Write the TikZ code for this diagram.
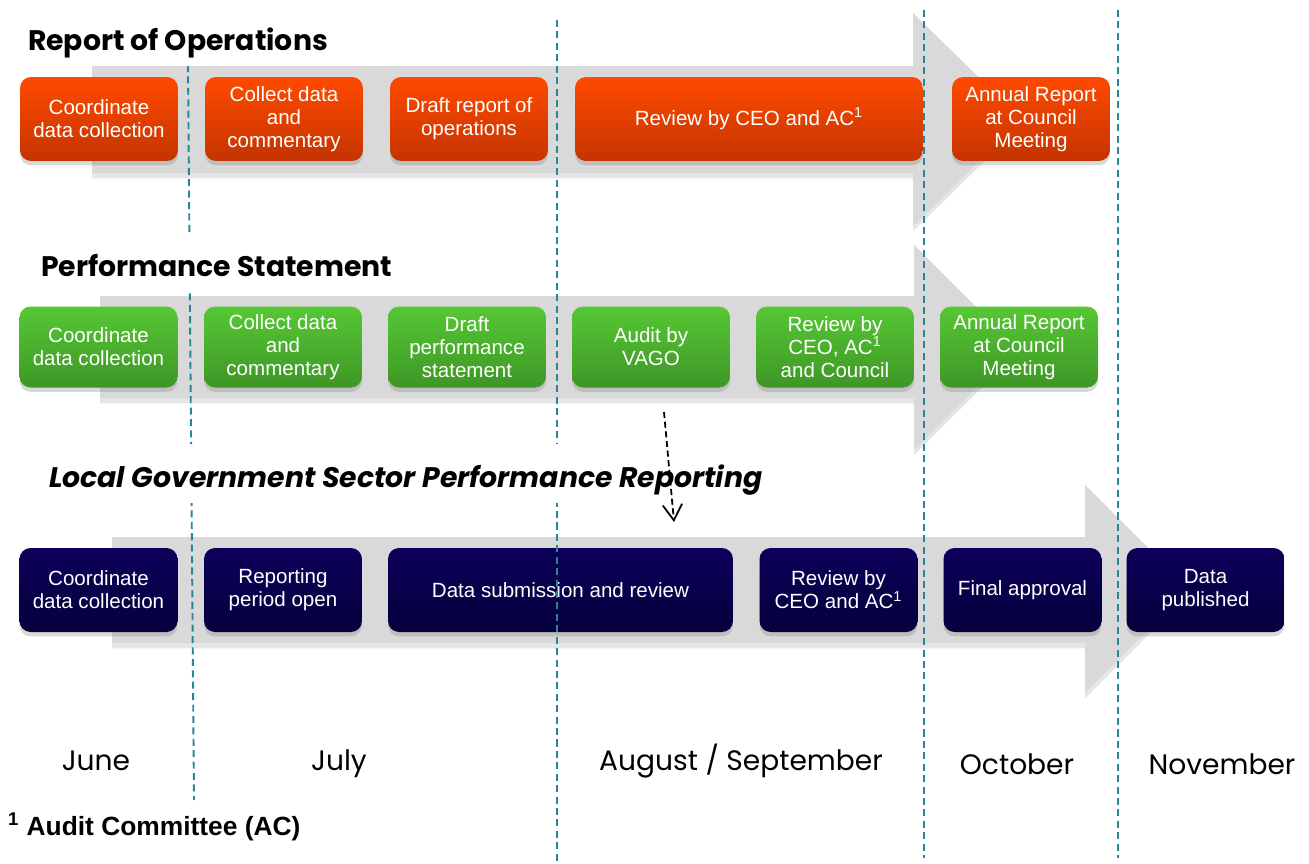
\documentclass[tikz,border=0pt]{standalone}
\usepackage{fontspec}
\setmainfont{Liberation Sans}
\newfontfamily\headfont{Poppins}
\usetikzlibrary{shadows,arrows.meta}

\definecolor{opsTop}{RGB}{255,74,0}
\definecolor{opsBot}{RGB}{196,52,0}
\definecolor{perfTop}{RGB}{86,200,52}
\definecolor{perfBot}{RGB}{62,150,38}
\definecolor{lgTop}{RGB}{12,0,90}
\definecolor{lgBot}{RGB}{6,0,60}
\definecolor{bandGrey}{RGB}{217,217,217}
\definecolor{monthTeal}{RGB}{38,136,150}

\tikzset{
  stagebox/.style={rounded corners=0.22cm, minimum width=3.16cm, minimum height=1.68cm, inner sep=2pt, align=center, text=white, font=\fontsize{11.7}{13}\selectfont, drop shadow={shadow xshift=0pt, shadow yshift=-2.5pt, opacity=0.3}},
  opsbox/.style={stagebox, top color=opsTop, bottom color=opsBot},
  perfbox/.style={stagebox, minimum height=1.62cm, top color=perfTop, bottom color=perfBot},
  lgbox/.style={stagebox, top color=lgTop, bottom color=lgBot},
  band/.style={fill=bandGrey, drop shadow={shadow xshift=0pt, shadow yshift=-3pt, opacity=0.2}},
  monthline/.style={draw=monthTeal, line width=1.1pt, dash pattern=on 4pt off 2.5pt},
  rowtitle/.style={anchor=base west, fill=white, inner xsep=1pt, text height=0.75cm, text depth=0.2cm, font=\headfont\bfseries\fontsize{16.1}{18}\selectfont},
  monthlabel/.style={anchor=base, font=\headfont\fontsize{16}{18}\selectfont}
}

\begin{document}
\begin{tikzpicture}[x=0.02cm, y=-0.02cm]
\useasboundingbox (0,0) rectangle (1309,863);

\fill[band] (92,66) -- (913,66) -- (913,13) -- (1022,119.5) -- (913,226) -- (913,173) -- (92,173) -- cycle;
\fill[band] (100,296) -- (914,296) -- (914,245) -- (1017,347.5) -- (914,450) -- (914,398) -- (100,398) -- cycle;
\fill[band] (112,537) -- (1085,537) -- (1085,485) -- (1189,589) -- (1085,693) -- (1085,643) -- (112,643) -- cycle;

\node[opsbox] (OpsCoord) at (99,119) {Coordinate\\data collection};
\node[opsbox] (OpsCollect) at (284,119) {Collect data\\and\\commentary};
\node[opsbox] (OpsDraft) at (469,119) {Draft report of\\operations};
\node[opsbox, minimum width=6.96cm] (OpsReview) at (749,119) {Review by CEO and AC\textsuperscript{1}};
\node[opsbox] (OpsAnnual) at (1031,119) {Annual Report\\at Council\\Meeting};

\node[perfbox] (PerfCoord) at (98.5,347) {Coordinate\\data collection};
\node[perfbox] (PerfCollect) at (283,347) {Collect data\\and\\commentary};
\node[perfbox] (PerfDraft) at (467,347) {Draft\\performance\\statement};
\node[perfbox] (PerfAudit) at (651,347) {Audit by\\VAGO};
\node[perfbox] (PerfReview) at (835,347) {Review by\\CEO, AC\textsuperscript{1}\\and Council};
\node[perfbox] (PerfAnnual) at (1019,347) {Annual Report\\at Council\\Meeting};

\node[lgbox] (LgCoord) at (98.5,590) {Coordinate\\data collection};
\node[lgbox] (LgOpen) at (283,590) {Reporting\\period open};
\node[lgbox, minimum width=6.9cm] (LgSubmit) at (560.5,590) {Data submission and review};
\node[lgbox] (LgReview) at (838.5,590) {Review by\\CEO and AC\textsuperscript{1}};
\node[lgbox] (LgFinal) at (1022.5,590) {Final approval};
\node[lgbox] (LgPublish) at (1205.5,590) {Data\\published};

\draw[monthline] (188,65) -- (194,800);
\draw[monthline] (557,20) -- (557,863);
\draw[monthline] (924,10) -- (924,858);
\draw[monthline] (1118,10) -- (1118,858);

\node[rowtitle] (OpsTitle) at (26,50) {Report of Operations};
\node[rowtitle] (PerfTitle) at (39,276) {Performance Statement};
\node[rowtitle, font=\headfont\bfseries\itshape\fontsize{16.1}{18}\selectfont] (LgTitle) at (47,487) {Local Government Sector Performance Reporting};

\coordinate (AuditOut) at (664,412);
\coordinate (SubmitIn) at (674,522);
\draw[line width=1pt, dash pattern=on 3.5pt off 2pt, -{Straight Barb[length=9pt,width=11pt,line width=1pt]}] (AuditOut) -- (SubmitIn);

\node[monthlabel] (MonJune) at (96,770) {June};
\node[monthlabel] (MonJuly) at (339,770) {July};
\node[monthlabel] (MonAug) at (741,770) {August / September};
\node[monthlabel] (MonOct) at (1017,774) {October};
\node[monthlabel] (MonNov) at (1222,774) {November};

\node[anchor=base west, font=\bfseries\fontsize{15}{17}\selectfont] (FootAC) at (2,835) {\textsuperscript{1} Audit Committee (AC)};
\end{tikzpicture}
\end{document}
